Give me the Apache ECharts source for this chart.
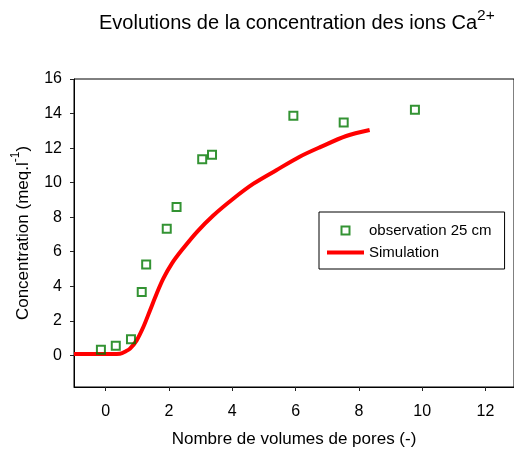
<!DOCTYPE html>
<html>
<head>
<meta charset="utf-8">
<script src="https://cdn.jsdelivr.net/npm/echarts@6/dist/echarts.min.js"></script>
<style>
  html, body { margin: 0; padding: 0; background: #fff; }
  #chart { width: 514px; height: 457px; }
</style>
</head>
<body>
<div id="chart"></div>
<script>
// Tick positions shown on each axis
const xTicks = [0, 2, 4, 6, 8, 10, 12];
const yTicks = [0, 2, 4, 6, 8, 10, 12, 14, 16];

// Measured Ca2+ concentration at 25 cm (pore volumes, meq/l)
const obsX = [-0.15, 0.32, 0.80, 1.14, 1.28, 1.93, 2.24, 3.05, 3.36, 5.93, 7.52, 9.77];
const obsY = [0.33, 0.56, 0.93, 3.67, 5.26, 7.33, 8.59, 11.35, 11.61, 13.87, 13.48, 14.22];

// Simulated breakthrough curve
const simX = [-1, 0.2, 0.45, 0.65, 0.77, 0.98, 1.19, 1.40, 1.61, 1.82, 2.09, 2.40, 2.88, 3.40, 4.03, 4.67, 5.39, 6.13, 6.76, 7.60, 8.34];
const simY = [0.08, 0.08, 0.10, 0.25, 0.39, 0.87, 1.64, 2.60, 3.57, 4.44, 5.31, 6.08, 7.14, 8.10, 9.07, 9.94, 10.72, 11.50, 12.04, 12.70, 13.05];

const obsName = 'observation 25 cm';
const simName = 'Simulation';

const FONT = 'Liberation Sans, Arial, sans-serif';

const chart = echarts.init(document.getElementById('chart'), null, { renderer: 'canvas' });

chart.setOption({
  animation: false,
  backgroundColor: '#ffffff',
  textStyle: { fontFamily: FONT, color: '#000' },
  title: {
    left: 99,
    top: 8,
    padding: 0,
    text: '{t|Evolutions de la concentration des ions Ca}{s|2+}',
    textStyle: {
      fontWeight: 'normal',
      rich: {
        t: { fontFamily: FONT, fontSize: 20, fontWeight: 'normal', color: '#000' },
        s: { fontFamily: FONT, fontSize: 15.5, fontWeight: 'normal', color: '#000', padding: [0, 0, 15, 0] }
      }
    }
  },
  grid: {
    left: 74,
    top: 79,
    right: 0,
    bottom: 70,
    show: true,
    borderColor: '#000',
    borderWidth: 1,
    containLabel: false
  },
  legend: {
    orient: 'vertical',
    left: 319,
    top: 212,
    padding: [11, 13, 9, 8],
    backgroundColor: '#fff',
    borderColor: '#000',
    borderWidth: 1,
    itemWidth: 37,
    itemHeight: 8,
    itemGap: 7,
    symbolKeepAspect: true,
    textStyle: { fontFamily: FONT, fontSize: 15, color: '#000', lineHeight: 15 },
    data: [
      { name: obsName, icon: 'path://M0,0L10,0L10,10L0,10Z' },
      { name: simName, icon: 'path://M0,0L37,0L37,4L0,4Z', itemStyle: { color: '#ff0000', borderWidth: 0 } }
    ]
  },
  xAxis: {
    type: 'value',
    min: -1,
    max: 12.9,
    splitLine: { show: false },
    axisLine: { show: true, onZero: false, lineStyle: { color: '#000', width: 1 } },
    axisTick: { show: true, length: 4, lineStyle: { color: '#222' }, customValues: xTicks },
    axisLabel: { fontFamily: FONT, fontSize: 16, color: '#000', margin: 17, customValues: xTicks },
    name: 'Nombre de volumes de pores (-)',
    nameLocation: 'middle',
    nameGap: 44,
    nameTextStyle: { fontFamily: FONT, fontSize: 17, color: '#000' }
  },
  yAxis: {
    type: 'value',
    min: -1.83,
    max: 16,
    splitLine: { show: false },
    axisLine: { show: true, onZero: false, lineStyle: { color: '#000', width: 1 } },
    axisTick: { show: true, length: 4, lineStyle: { color: '#222' }, customValues: yTicks },
    axisLabel: { fontFamily: FONT, fontSize: 16, color: '#000', margin: 12, customValues: yTicks },
    name: '{t|Concentration (meq.l}{s|-1}{t|)}',
    nameLocation: 'middle',
    nameRotate: 90,
    nameGap: 38,
    nameTextStyle: {
      rich: {
        t: { fontFamily: FONT, fontSize: 17, color: '#000' },
        s: { fontFamily: FONT, fontSize: 12, color: '#000', padding: [0, 0, 14, 0] }
      }
    }
  },
  series: [
    {
      name: simName,
      type: 'line',
      data: simX.map((x, i) => [x, simY[i]]),
      showSymbol: false,
      symbol: 'none',
      smooth: 0.3,
      lineStyle: { color: '#ff0000', width: 4 },
      itemStyle: { color: '#ff0000' },
      z: 2
    },
    {
      name: obsName,
      type: 'scatter',
      data: obsX.map((x, i) => [x, obsY[i]]),
      symbol: 'rect',
      symbolSize: 8,
      itemStyle: { color: 'rgba(255,255,255,0)', borderColor: '#007800', borderWidth: 2 },
      z: 3
    }
  ]
});
</script>
</body>
</html>
